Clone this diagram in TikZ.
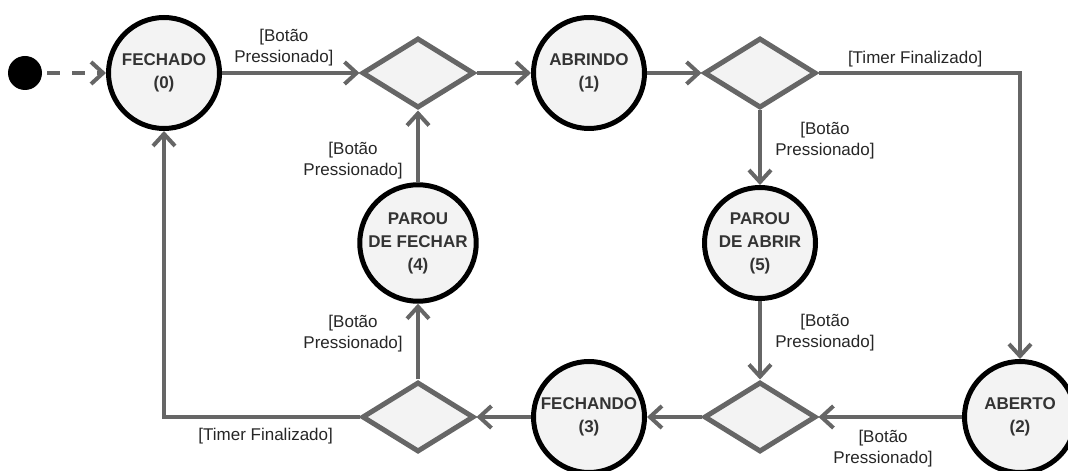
\documentclass[tikz,border=0pt]{standalone}
\usepackage{fontspec}
\setmainfont{Liberation Sans}
\usetikzlibrary{arrows.meta,positioning,shapes.geometric}
\definecolor{flowgray}{HTML}{666666}
\definecolor{statefill}{HTML}{F3F3F3}
\definecolor{statetext}{HTML}{333333}

\begin{document}
\begin{tikzpicture}[
  x=1pt,y=1pt,on grid,
  state/.style={circle,draw=black,line width=5pt,fill=statefill,minimum size=111pt,inner sep=0pt,
    align=center,text=statetext,font=\bfseries\fontsize{17}{23}\selectfont},
  choice/.style={diamond,draw=flowgray,line width=5pt,fill=statefill,minimum width=112pt,
    minimum height=70pt,inner sep=0pt},
  flow/.style={draw=flowgray,line width=4pt,-{Straight Barb[length=12pt,width=22pt]}},
  guard/.style={align=center,text=black!85,font=\fontsize{17}{21}\selectfont}
]
  \useasboundingbox (0,0) rectangle (1068,471);

  \node[circle,fill=black,minimum size=34pt,inner sep=0pt] (start) at (25,398) {};
  \node[state] (fechado) at (164,398) {FECHADO\\(0)};
  \node[choice,right=254pt of fechado] (c1) {};
  \node[state,right=171pt of c1] (abrindo) {ABRINDO\\(1)};
  \node[choice,right=171pt of abrindo] (c2) {};
  \node[state,below=170pt of c2] (parouabrir) {PAROU\\DE ABRIR\\(5)};
  \node[choice,below=174pt of parouabrir] (c3) {};
  \node[state,right=260pt of c3] (aberto) {ABERTO\\(2)};
  \node[state,left=171pt of c3] (fechando) {FECHANDO\\(3)};
  \node[choice,left=171pt of fechando] (c4) {};
  \node[state,above=174pt of c4] (paroufechar) {PAROU\\DE FECHAR\\(4)};

  % abrindo
  \draw[flow,dash pattern=on 13pt off 12pt,shorten <=5pt] (start) -- (fechado);
  \draw[flow] (fechado) -- node[guard,above=2pt,pos=0.45]{[Botão\\Pressionado]} (c1);
  \draw[flow] (c1) -- (abrindo);
  \draw[flow] (abrindo) -- (c2);
  \draw[flow] (c2.east) -| node[guard,above=1pt,pos=0.24]{[Timer Finalizado]} (aberto);
  \draw[flow] (c2) -- node[guard,right=10pt,pos=0.4]{[Botão\\Pressionado]} (parouabrir);
  \draw[flow] (parouabrir) -- node[guard,right=10pt,pos=0.4]{[Botão\\Pressionado]} (c3);

  % fechando
  \draw[flow] (aberto) -- node[guard,below=8pt,pos=0.55]{[Botão\\Pressionado]} (c3);
  \draw[flow] (c3) -- (fechando);
  \draw[flow] (fechando) -- (c4);
  \draw[flow] (c4.west) -| node[guard,below=6pt,pos=0.24]{[Timer Finalizado]} (fechado);
  \draw[flow] (c4) -- node[guard,left=10pt,pos=0.6]{[Botão\\Pressionado]} (paroufechar);
  \draw[flow] (paroufechar) -- node[guard,left=10pt,pos=0.3]{[Botão\\Pressionado]} (c1);
\end{tikzpicture}
\end{document}
